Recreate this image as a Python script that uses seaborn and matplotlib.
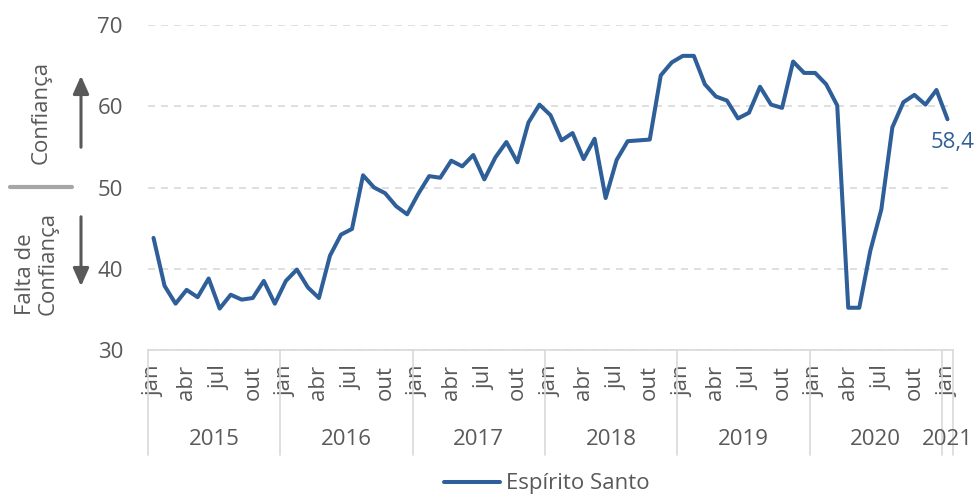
import numpy as np
import pandas as pd
import seaborn as sns
import matplotlib.pyplot as plt
from matplotlib.transforms import blended_transform_factory

# Data: monthly confidence index, jan/2015 .. jan/2021
years = [2015, 2016, 2017, 2018, 2019, 2020, 2021]
month_names = ["jan", "fev", "mar", "abr", "mai", "jun",
               "jul", "ago", "set", "out", "nov", "dez"]
shown_months = ["jan", "abr", "jul", "out"]
values = [
    43.8, 37.9, 35.7, 37.4, 36.5, 38.8, 35.1, 36.8, 36.2, 36.4, 38.5, 35.7,  # 2015
    38.5, 39.9, 37.7, 36.4, 41.6, 44.2, 44.9, 51.5, 50.0, 49.3, 47.7, 46.7,  # 2016
    49.2, 51.4, 51.2, 53.3, 52.6, 54.0, 51.0, 53.7, 55.6, 53.1, 58.0, 60.2,  # 2017
    58.9, 55.8, 56.7, 53.5, 56.0, 48.7, 53.4, 55.7, 55.8, 55.9, 63.8, 65.4,  # 2018
    66.2, 66.2, 62.7, 61.2, 60.7, 58.5, 59.2, 62.4, 60.2, 59.8, 65.5, 64.1,  # 2019
    64.1, 62.7, 60.1, 35.2, 35.2, 42.2, 47.3, 57.4, 60.5, 61.4, 60.2, 62.0,  # 2020
    58.4,                                                                    # 2021
]
series_name = "Espírito Santo"
yticks = [30, 40, 50, 60, 70]

n = len(values)
df = pd.DataFrame({
    "t": np.arange(n),
    "year": [years[0] + i // 12 for i in range(n)],
    "month": [month_names[i % 12] for i in range(n)],
    "value": values,
})

sns.set_theme(style="white")
plt.rcParams["font.family"] = ["Open Sans", "DejaVu Sans"]

blue = "#2F5F98"
gray_txt = "#595959"
grid_c = "#D9D9D9"
fs = 16

fig, ax = plt.subplots(figsize=(9.79, 4.97), dpi=100)
fig.subplots_adjust(left=148 / 979, right=953 / 979, top=1 - 25 / 497, bottom=1 - 350 / 497)

sns.lineplot(data=df, x="t", y="value", ax=ax, color=blue, linewidth=2.9,
             label=series_name, legend=False)

ax.set_xlim(-0.5, n - 0.5)
ax.set_ylim(30, 70)
ax.set_yticks(yticks)
ax.set_xlabel("")
ax.set_ylabel("")

# grid and spines
ax.yaxis.grid(True, color=grid_c, linewidth=1.2, linestyle=(0, (4.2, 3.6)))
ax.xaxis.grid(False)
for s in ["top", "right", "left"]:
    ax.spines[s].set_visible(False)
ax.spines["bottom"].set_color(grid_c)
ax.spines["bottom"].set_linewidth(1.2)

# month ticks
mt = df[df["month"].isin(shown_months)]
ax.set_xticks(mt["t"])
ax.set_xticklabels(mt["month"], rotation=90)
ax.tick_params(axis="x", length=0, pad=11, labelsize=fs, labelcolor=gray_txt)
ax.tick_params(axis="y", length=0, pad=18, labelsize=fs, labelcolor=gray_txt)

# year labels and separators
trans = blended_transform_factory(ax.transData, ax.transAxes)
for yr, grp in df.groupby("year"):
    x0 = grp["t"].min() - 0.5
    x1 = grp["t"].max() + 0.5
    ax.text((x0 + x1) / 2, -0.275, str(yr), transform=trans, ha="center", va="center",
            fontsize=fs, color=gray_txt)
    ax.plot([x0, x0], [0, -0.323], transform=trans, color=grid_c, lw=1.2, clip_on=False)
ax.plot([n - 0.5, n - 0.5], [0, -0.323], transform=trans, color=grid_c, lw=1.2, clip_on=False)

# last value label
ax.annotate(f"{values[-1]:.1f}".replace(".", ","), xy=(n - 1, values[-1]),
            xytext=(4, -17), textcoords="offset points", ha="center", va="center",
            fontsize=fs, color=blue)

# legend
fig.legend(loc="center", bbox_to_anchor=(547 / 979, 1 - 484 / 497), frameon=False,
           fontsize=fs, handlelength=2.5, handletextpad=0.3, labelcolor=gray_txt)


# left side annotations (figure pixel coords)
def fx(px):
    return px / 979


def fy(py):
    return 1 - py / 497


arrow_kw = dict(arrowstyle="-|>,head_length=0.9,head_width=0.4", color=gray_txt, lw=2.2)
ax.annotate("", xy=(fx(81), fy(73)), xytext=(fx(81), fy(150)), xycoords="figure fraction",
            textcoords="figure fraction", arrowprops=arrow_kw, annotation_clip=False)
ax.annotate("", xy=(fx(81), fy(289)), xytext=(fx(81), fy(214)), xycoords="figure fraction",
            textcoords="figure fraction", arrowprops=arrow_kw, annotation_clip=False)
fig.add_artist(plt.Line2D([fx(10), fx(72)], [fy(187), fy(187)], color="#A6A6A6", lw=3,
                          transform=fig.transFigure))
fig.text(fx(41), fy(112), "Confiança", rotation=90, ha="center", va="center",
         fontsize=fs, color=gray_txt)
fig.text(fx(37), fy(315), "Falta de\nConfiança", rotation=90, ha="center", va="bottom",
         multialignment="left", linespacing=1.1, fontsize=fs, color=gray_txt)

fig.savefig("out.png", dpi=100)
